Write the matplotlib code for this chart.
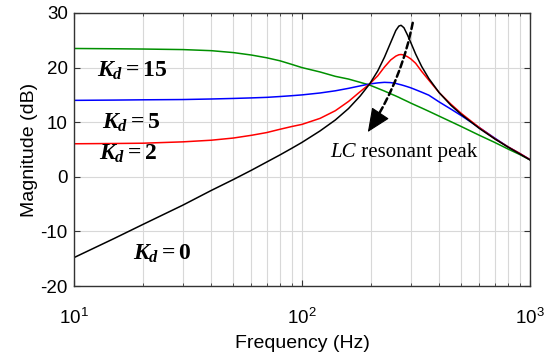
import matplotlib
matplotlib.use("Agg")
import matplotlib.pyplot as plt
from matplotlib.ticker import LogLocator, MultipleLocator

plt.rcParams["font.family"] = ["Liberation Sans", "DejaVu Sans"]
plt.rcParams["axes.unicode_minus"] = False
plt.rcParams["mathtext.fontset"] = "custom"
plt.rcParams["mathtext.rm"] = "Liberation Serif:bold"
plt.rcParams["mathtext.it"] = "Liberation Serif:bold:italic"

# values
freq_hz = [10, 15, 20, 30, 40, 50, 60, 70, 80, 90, 100, 120, 140, 160, 180, 198,
           215, 230, 245, 258, 266, 272, 280, 290, 300, 315, 335, 360, 400, 450,
           500, 600, 700, 800, 900, 1000]

mag_kd0 = [-14.8, -11.3, -8.75, -5.2, -2.5, -0.5, 1.2, 2.7, 4.0, 5.2, 6.3, 8.4,
           10.4, 12.5, 14.8, 17.0, 19.4, 21.9, 24.6, 26.8, 27.6, 27.75, 27.3,
           26.0, 24.6, 22.5, 20.2, 18.0, 15.4, 13.1, 11.4, 8.85, 6.95, 5.45,
           4.2, 3.1]
mag_kd2 = [6.05, 6.1, 6.15, 6.4, 6.7, 7.1, 7.6, 8.1, 8.7, 9.2, 9.6, 10.7, 12.1,
           13.8, 15.6, 17.0, 18.5, 20.1, 21.4, 22.1, 22.35, 22.4, 22.3, 22.0,
           21.6, 20.8, 19.3, 17.7, 15.4, 13.3, 11.6, 9.0, 7.0, 5.5, 4.3, 3.15]
mag_kd5 = [14.0, 14.05, 14.1, 14.15, 14.25, 14.35, 14.45, 14.55, 14.7, 14.85,
           15.0, 15.35, 15.75, 16.2, 16.65, 17.0, 17.2, 17.3, 17.25, 17.1,
           16.95, 16.85, 16.7, 16.5, 16.3, 15.95, 15.5, 14.95, 13.7, 12.4, 11.2,
           9.0, 7.1, 5.5, 4.3, 3.15]
mag_kd15 = [23.5, 23.45, 23.4, 23.3, 23.1, 22.75, 22.3, 21.8, 21.25, 20.6, 20.0,
            19.2, 18.4, 17.9, 17.3, 16.8, 16.2, 15.7, 15.2, 14.8, 14.55, 14.35,
            14.1, 13.8, 13.5, 13.1, 12.6, 12.0, 11.1, 10.1, 9.2, 7.6, 6.3, 5.1,
            4.1, 3.1]

curve_labels = [r"$K_d=15$", r"$K_d=5$", r"$K_d=2$", r"$K_d=0$"]
label_pos = [(12.6, 18.3), (13.3, 8.9), (12.9, 3.1), (18.2, -15.2)]

# dashed arrow pointing at the damped resonant peaks
arrow_tail = (306, 28.2)
arrow_tip = (194.5, 8.2)

fig = plt.figure(figsize=(5.5, 3.58), dpi=100)
ax = fig.add_axes([0.1345, 0.2011, 0.8291, 0.7626])

ax.semilogx(freq_hz, mag_kd15, color="#009000", lw=1.1)
ax.semilogx(freq_hz, mag_kd5, color="#0000ff", lw=1.1)
ax.semilogx(freq_hz, mag_kd2, color="#ff0000", lw=1.1)
ax.semilogx(freq_hz, mag_kd0, color="black", lw=1.1)

ax.set_xlim(10, 1000)
ax.set_ylim(-20, 30)
ax.yaxis.set_major_locator(MultipleLocator(10))
ax.xaxis.set_minor_locator(LogLocator(base=10, subs=range(2, 10)))

ax.grid(True, which="major", color="#d8d8d8", lw=0.8)
ax.grid(True, which="minor", axis="x", color="#d8d8d8", lw=0.8)
ax.set_axisbelow(True)

ax.tick_params(which="both", direction="in", top=True, right=True,
               labelsize=13.5, colors="#333333", labelcolor="black")
ax.tick_params(which="major", length=4)
ax.tick_params(which="minor", length=2.5)
ax.tick_params(axis="x", which="major", pad=16)
ax.tick_params(axis="y", which="major", pad=4.5)
for sp in ax.spines.values():
    sp.set_color("#333333")
    sp.set_linewidth(1.0)

ax.set_xlabel("Frequency (Hz)", fontsize=14, labelpad=5)
ax.set_ylabel("Magnitude (dB)", fontsize=14, labelpad=2)

for txt, (fx, fy) in zip(curve_labels, label_pos):
    ax.text(fx, fy, txt, fontsize=17, va="baseline", ha="left")

lc = ax.text(132.8, 3.6, "LC", fontsize=15, va="baseline", ha="left",
             family="Liberation Serif", style="italic")
ax.annotate(" resonant peak", xy=(1, 0), xycoords=lc, va="bottom", ha="left",
            fontsize=15, family="Liberation Serif")

# shaft (dashed) and head (solid) drawn separately
ax.annotate("", xy=arrow_tip, xytext=arrow_tail,
            arrowprops=dict(arrowstyle="-", linestyle=(0, (2.5, 1.5)),
                            lw=1.8, color="black",
                            connectionstyle="arc3,rad=-0.1",
                            shrinkA=0, shrinkB=7))
ax.annotate("", xy=arrow_tip, xytext=(6, 9), textcoords="offset points",
            arrowprops=dict(arrowstyle="-|>,head_length=0.75,head_width=0.33",
                            lw=0.8, color="black", mutation_scale=20,
                            shrinkA=0, shrinkB=0))

fig.savefig("out.png", dpi=100)
